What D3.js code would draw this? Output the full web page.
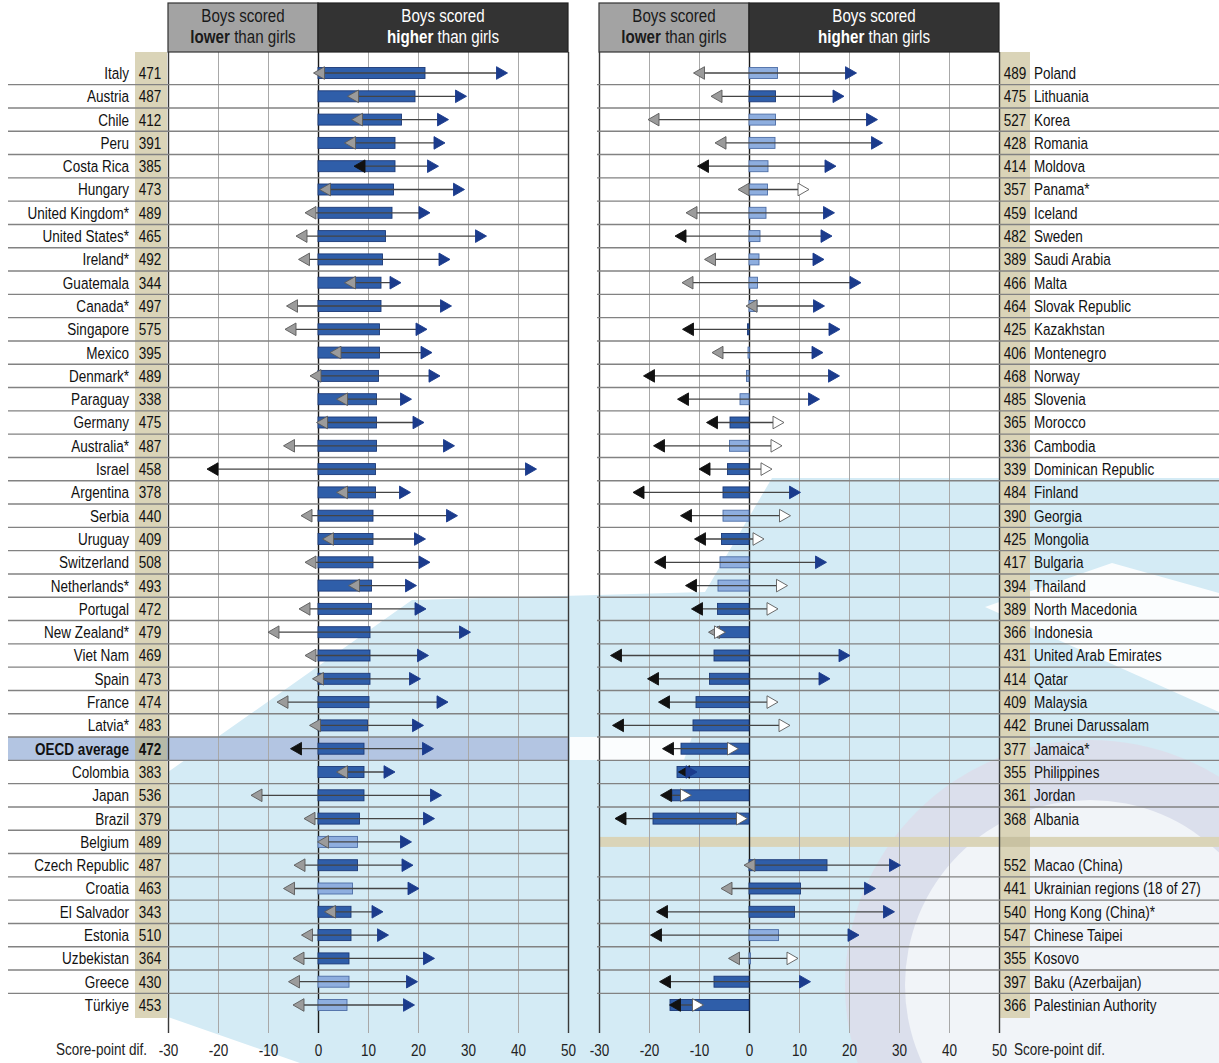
<!DOCTYPE html>
<html>
<head>
<meta charset="utf-8">
<script src="https://cdn.jsdelivr.net/npm/d3@7"></script>
<style>
  body { margin: 0; background: #fff; }
  svg { display: block; }
  text { font-family: "Liberation Sans", Arial, sans-serif; }
</style>
</head>
<body>
<svg id="chart" width="1219" height="1063"></svg>
<script>
// ---- Left panel: countries / economies, mean score, gender gaps ----
const leftCountries = ["Italy","Austria","Chile","Peru","Costa Rica","Hungary","United Kingdom*","United States*","Ireland*","Guatemala","Canada*","Singapore","Mexico","Denmark*","Paraguay","Germany","Australia*","Israel","Argentina","Serbia","Uruguay","Switzerland","Netherlands*","Portugal","New Zealand*","Viet Nam","Spain","France","Latvia*","OECD average","Colombia","Japan","Brazil","Belgium","Czech Republic","Croatia","El Salvador","Estonia","Uzbekistan","Greece","Türkiye"];
const leftScores = [471,487,412,391,385,473,489,465,492,344,497,575,395,489,338,475,487,458,378,440,409,508,493,472,479,469,473,474,483,472,383,536,379,489,487,463,343,510,364,430,453];
// mean difference (boys - girls)
const leftGap = [21.4,19.4,16.7,15.4,15.4,15.1,14.8,13.5,12.9,12.6,12.6,12.3,12.3,12.1,11.7,11.7,11.7,11.5,11.5,11.0,11.0,11.0,10.7,10.7,10.4,10.4,10.4,10.2,9.9,9.2,9.2,9.2,8.3,7.9,7.9,6.9,6.6,6.6,6.2,6.2,5.8];
const leftGapSig = [1,1,1,1,1,1,1,1,1,1,1,1,1,1,1,1,1,1,1,1,1,1,1,1,1,1,1,1,1,1,1,1,1,0,1,0,1,1,1,0,0];
// difference among lowest achievers (10th percentile)
const leftLow = [0.2,7.0,7.8,6.4,8.3,1.4,-1.5,-3.3,-2.8,6.4,-5.2,-5.5,3.5,-0.5,4.8,0.8,-5.8,-21.1,4.8,-2.3,2.0,-1.5,7.2,-2.7,-8.9,-1.5,0.0,-7.1,-0.6,-4.4,4.8,-12.3,-1.7,1.0,-3.7,-5.8,2.4,-2.2,-3.9,-4.8,-3.9];
const leftLowSig = [0,0,0,0,1,0,0,0,0,0,0,0,0,0,0,0,0,1,0,0,0,0,0,0,0,0,0,0,0,1,0,0,0,0,0,0,0,0,0,0,0];
// difference among highest achievers (90th percentile)
const leftHigh = [36.8,28.6,25.0,24.3,23.0,28.2,21.3,32.6,25.3,15.5,25.6,20.7,21.7,23.3,17.6,20.1,26.2,42.6,17.4,26.8,20.4,21.3,18.6,20.5,29.4,21.0,19.4,24.9,20.0,22.0,14.3,23.6,22.2,17.6,17.9,19.1,11.9,13.0,22.2,18.8,18.2];
const leftHighSig = [1,1,1,1,1,1,1,1,1,1,1,1,1,1,1,1,1,1,1,1,1,1,1,1,1,1,1,1,1,1,1,1,1,1,1,1,1,1,1,1,1];

// ---- Right panel ----
const rightCountries = ["Poland","Lithuania","Korea","Romania","Moldova","Panama*","Iceland","Sweden","Saudi Arabia","Malta","Slovak Republic","Kazakhstan","Montenegro","Norway","Slovenia","Morocco","Cambodia","Dominican Republic","Finland","Georgia","Mongolia","Bulgaria","Thailand","North Macedonia","Indonesia","United Arab Emirates","Qatar","Malaysia","Brunei Darussalam","Jamaica*","Philippines","Jordan","Albania","Macao (China)","Ukrainian regions (18 of 27)","Hong Kong (China)*","Chinese Taipei","Kosovo","Baku (Azerbaijan)","Palestinian Authority"];
const rightScores = [489,475,527,428,414,357,459,482,389,466,464,425,406,468,485,365,336,339,484,390,425,417,394,389,366,431,414,409,442,377,355,361,368,552,441,540,547,355,397,366];
const rightGap = [5.7,5.3,5.3,5.2,3.8,3.7,3.4,2.2,2.0,1.7,1.6,-0.3,-0.2,-0.5,-1.8,-3.8,-3.9,-4.3,-5.2,-5.2,-5.5,-5.8,-6.2,-6.3,-6.3,-7.0,-7.9,-10.6,-11.2,-13.6,-14.4,-15.4,-19.2,15.6,10.3,9.1,5.9,0.3,-7.0,-15.8];
const rightGapSig = [0,1,0,0,0,0,0,0,0,0,0,1,0,0,0,1,0,1,1,0,1,0,0,1,1,1,1,1,1,1,1,1,1,1,1,1,0,0,1,1];
const rightLow = [-10.0,-6.5,-19.1,-5.7,-9.2,-1.1,-11.5,-13.7,-7.8,-12.3,0.5,-12.2,-6.3,-20.0,-13.2,-7.4,-18.0,-8.9,-22.1,-12.6,-9.8,-17.8,-11.6,-10.4,-7.0,-26.6,-19.2,-17.0,-26.2,-16.2,-13.0,-16.6,-25.7,0.1,-4.5,-17.4,-18.6,-3.0,-16.8,-14.8];
const rightLowSig = [0,0,0,0,1,0,0,1,0,0,0,1,0,1,1,1,1,1,1,1,1,1,1,1,0,1,1,1,1,1,1,1,1,0,0,1,1,0,1,1];
const rightHigh = [20.4,17.9,24.6,25.6,16.3,10.9,16.0,15.5,13.9,21.3,14.0,17.1,13.7,17.0,13.0,5.9,5.5,3.5,9.2,7.2,1.9,14.4,6.6,4.7,-5.8,19.1,15.1,4.7,7.1,-3.2,-11.5,-12.6,-1.4,29.2,24.2,28.0,20.9,8.7,11.2,-10.2];
const rightHighSig = [1,1,1,1,1,0,1,1,1,1,1,1,1,1,1,0,0,0,1,0,0,1,0,0,0,1,1,0,0,0,1,0,0,1,1,1,1,0,1,0];

const tickValues = [-30,-20,-10,0,10,20,30,40,50];
const axisTitle = "Score-point dif.";
const headLower = ["Boys scored", "lower", " than girls"];
const headHigher = ["Boys scored", "higher", " than girls"];
const separatorSlot = 33;

// ---- layout ----
const svg = d3.select("#chart");
const W = 1219, H = 1063;
const headTop = 3, headBottom = 52, gridBottom = 1033;
const NARROW = 0.82; // horizontal squeeze for a narrow typeface look
const xL = d3.scaleLinear().domain([-30, 50]).range([168, 568]);
const xR = d3.scaleLinear().domain([-30, 50]).range([599, 999]);
const y = d3.scaleBand().domain(d3.range(41)).range([61.35, 1016.65]);
const yc = i => y(i) + y.bandwidth() / 2;

const C = {
  beige: "#dad4b8", beigeDark: "#c9c2a2",
  barDark: "#2f5ea9", barDarkStroke: "#1c3a78",
  barLight: "#8eaedf", barLightStroke: "#4d6ea6",
  navy: "#1b3b8c", grey: "#9b9b9b", greyStroke: "#5a5a5a",
  black: "#111", line: "#444", rule: "#828282", grid: "#a8a8a8",
  oecd: "#b3c5e2", wash: "#d4ebf5", seal: "#dddbe8"
};

// narrow text placed at (x, y)
function narrowText(sel, x, yy) {
  return sel.attr("x", 0).attr("transform", `translate(${x},${yy}) scale(${NARROW},1)`);
}

svg.append("rect").attr("width", W).attr("height", H).attr("fill", "#fff");

// background wash shapes
const wash = svg.append("g");
wash.append("path")
  .attr("d", d3.line()([[412,600],[705,592],[772,478],[1219,478],[1219,1063],[300,1063],[168,1017],[168,772]]) + "Z")
  .attr("fill", C.wash);
wash.append("path")
  .attr("d", d3.line()([[1112,563],[985,607],[1219,712],[1219,593]]) + "Z")
  .attr("fill", "#fbfdfe");
wash.append("path")
  .attr("d", d3.line()([[570,737],[692,737],[684,760],[570,760]]) + "Z")
  .attr("fill", "#fbfdfe");
wash.append("circle").attr("cx", 1090).attr("cy", 985).attr("r", 245).attr("fill", C.seal).attr("opacity", 0.75);
wash.append("circle").attr("cx", 1090).attr("cy", 985).attr("r", 185).attr("fill", "#f1f4f8");

// OECD average band
const oecdIdx = leftCountries.indexOf("OECD average");
svg.append("rect").attr("x", 8).attr("y", y(oecdIdx)).attr("width", xL(50) - 8)
  .attr("height", y.bandwidth()).attr("fill", C.oecd);

// score columns
svg.append("rect").attr("x", 135).attr("y", headBottom).attr("width", 32)
  .attr("height", 1018 - headBottom).attr("fill", C.beige);
svg.append("rect").attr("x", 1000).attr("y", headBottom).attr("width", 30)
  .attr("height", 1018 - headBottom).attr("fill", C.beige);
svg.append("rect").attr("x", 135).attr("y", y(oecdIdx)).attr("width", 32)
  .attr("height", y.bandwidth()).attr("fill", "#9fa79d").attr("opacity", 0.6);

// separator band in right panel
svg.append("rect").attr("x", xR(-30)).attr("y", yc(separatorSlot) - 5).attr("width", W - xR(-30))
  .attr("height", 10).attr("fill", C.beige);
svg.append("rect").attr("x", 1000).attr("y", yc(separatorSlot) - 5).attr("width", 30)
  .attr("height", 10).attr("fill", C.beigeDark);

function drawPanel(x, cfg) {
  const g = svg.append("g");
  // vertical grid + tick labels
  const axis = d3.axisBottom(x).tickValues(tickValues).tickSize(-(gridBottom - headBottom))
    .tickPadding(11).tickFormat(d => String(d));
  const ax = g.append("g").attr("transform", `translate(0,${gridBottom})`).call(axis);
  ax.select(".domain").remove();
  ax.selectAll(".tick line")
    .attr("stroke", d => d === 0 ? "#1a1a1a" : (d === -30 || d === 50) ? "#3a3a3a" : C.grid)
    .attr("stroke-width", d => (d === 0 || d === -30 || d === 50) ? 1.4 : 1);
  ax.selectAll(".tick text").attr("font-size", 16.5).attr("fill", "#222")
    .attr("font-family", "Liberation Sans, Arial, sans-serif")
    .attr("transform", `scale(${NARROW},1)`);

  // row rules
  const rules = [];
  for (let s = 0; s < 40; s++) {
    if (cfg.skipRule(s)) continue;
    rules.push(y(s) + y.bandwidth());
  }
  g.append("g").selectAll("line").data(rules).join("line")
    .attr("x1", cfg.ruleX[0]).attr("x2", cfg.ruleX[1])
    .attr("y1", d => d).attr("y2", d => d)
    .attr("stroke", C.rule).attr("stroke-width", 1.4);

  // header boxes
  const hg = g.append("g");
  hg.append("rect").attr("x", x(-30)).attr("y", headTop).attr("width", x(0) - x(-30))
    .attr("height", headBottom - headTop).attr("fill", "#a3a3a3").attr("stroke", "#333").attr("stroke-width", 1.2);
  hg.append("rect").attr("x", x(0)).attr("y", headTop).attr("width", x(50) - x(0))
    .attr("height", headBottom - headTop).attr("fill", "#333").attr("stroke", "#222").attr("stroke-width", 1.2);
  const heads = [[headLower, (x(-30) + x(0)) / 2, "#1a1a1a"], [headHigher, (x(0) + x(50)) / 2, "#fff"]];
  heads.forEach(([txt, cx, col]) => {
    narrowText(hg.append("text"), cx, 22).attr("text-anchor", "middle")
      .attr("font-size", 18.5).attr("fill", col).text(txt[0]);
    const t = narrowText(hg.append("text"), cx, 43).attr("text-anchor", "middle")
      .attr("font-size", 18.5).attr("fill", col);
    t.append("tspan").attr("font-weight", "bold").text(txt[1]);
    t.append("tspan").text(txt[2]);
  });

  // rows
  const rows = cfg.names.map((n, i) => ({
    name: n, score: cfg.scores[i], gap: cfg.gap[i], gapSig: cfg.gapSig[i],
    low: cfg.low[i], lowSig: cfg.lowSig[i], high: cfg.high[i], highSig: cfg.highSig[i],
    slot: cfg.slot(i)
  }));
  const rg = g.append("g").selectAll("g").data(rows).join("g")
    .attr("transform", d => `translate(0,${yc(d.slot)})`);

  const bh = 11;
  rg.append("rect")
    .attr("x", d => Math.min(x(0), x(d.gap)))
    .attr("y", -bh / 2).attr("height", bh)
    .attr("width", d => Math.max(1.5, Math.abs(x(d.gap) - x(0))))
    .attr("fill", d => d.gapSig ? C.barDark : C.barLight)
    .attr("stroke", d => d.gapSig ? C.barDarkStroke : C.barLightStroke)
    .attr("stroke-width", 0.9);

  rg.append("line")
    .attr("x1", d => x(d.low)).attr("x2", d => x(d.high))
    .attr("stroke", C.line).attr("stroke-width", 1.3);

  const tw = 5.5, th = 6.3;
  rg.append("path")
    .attr("d", d => { const cx = x(d.low); return `M${cx - tw},0L${cx + tw},${-th}L${cx + tw},${th}Z`; })
    .attr("fill", d => d.lowSig ? C.black : C.grey)
    .attr("stroke", d => d.lowSig ? C.black : C.greyStroke).attr("stroke-width", 0.9);
  rg.append("path")
    .attr("d", d => { const cx = x(d.high); return `M${cx + tw},0L${cx - tw},${-th}L${cx - tw},${th}Z`; })
    .attr("fill", d => d.highSig ? C.navy : "#fff")
    .attr("stroke", d => d.highSig ? C.navy : C.greyStroke).attr("stroke-width", 0.9);

  // labels
  rg.each(function (d) {
    const r = d3.select(this);
    const bold = d.name === "OECD average" ? "bold" : null;
    narrowText(r.append("text"), cfg.scoreX, 0).attr("dy", "0.36em").attr("text-anchor", "middle")
      .attr("font-size", 16.5).attr("fill", "#111").attr("font-weight", bold).text(d.score);
    narrowText(r.append("text"), cfg.nameX, 0).attr("dy", "0.36em").attr("text-anchor", cfg.nameAnchor)
      .attr("font-size", 16.5).attr("fill", "#111").attr("font-weight", bold).text(d.name);
  });

  // axis title
  narrowText(g.append("text"), cfg.titleX, gridBottom + 22).attr("text-anchor", cfg.titleAnchor)
    .attr("font-size", 16.5).attr("fill", "#222").text(axisTitle);
}

drawPanel(xL, {
  names: leftCountries, scores: leftScores, gap: leftGap, gapSig: leftGapSig,
  low: leftLow, lowSig: leftLowSig, high: leftHigh, highSig: leftHighSig,
  slot: i => i, skipRule: s => false, ruleX: [8, 568],
  scoreX: 150, nameX: 129, nameAnchor: "end", titleX: 147, titleAnchor: "end"
});
drawPanel(xR, {
  names: rightCountries, scores: rightScores, gap: rightGap, gapSig: rightGapSig,
  low: rightLow, lowSig: rightLowSig, high: rightHigh, highSig: rightHighSig,
  slot: i => i < separatorSlot ? i : i + 1,
  skipRule: s => s === separatorSlot - 1 || s === separatorSlot, ruleX: [597, W],
  scoreX: 1015, nameX: 1034, nameAnchor: "start", titleX: 1014, titleAnchor: "start"
});
</script>
</body>
</html>
